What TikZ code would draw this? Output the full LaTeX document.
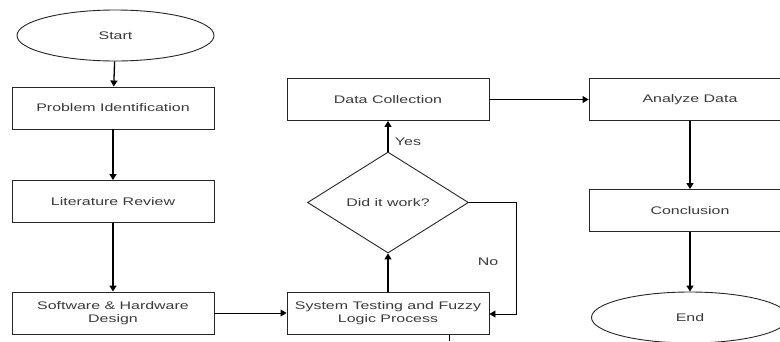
\documentclass[tikz,border=0pt]{standalone}
\usepackage{fontspec}
\setmainfont{Liberation Sans}
\newfontfamily\wide[FakeStretch=1.45]{Liberation Sans}
\usetikzlibrary{shapes.geometric,arrows.meta}
\definecolor{txt}{HTML}{3A3A3A}
\tikzset{
  base/.style={draw=black!85, line width=0.9pt, font=\wide\fontsize{11}{13}\selectfont, text=txt, align=center, inner sep=0pt},
  procbox/.style={base, rectangle, minimum width=202pt, minimum height=42pt},
  term/.style={base, ellipse, minimum width=197pt, minimum height=51pt},
  decide/.style={base, diamond, aspect=1.6, minimum width=161pt, minimum height=101pt},
  flow/.style={draw=black, line width=1.3pt, -{Triangle[length=6pt,width=7pt]}},
  hflow/.style={flow, line width=0.9pt},
  lbl/.style={font=\wide\fontsize{11}{13}\selectfont, text=txt, inner sep=0pt}
}
\begin{document}
\begin{tikzpicture}[x=1pt,y=-1pt]
\clip (0,0) rectangle (780,341);
\fill[white] (0,0) rectangle (780,341);
\node[term] (start) at (115.5,35.5) {Start};
\node[procbox] (pi) at (113,108) {Problem Identification};
\node[procbox] (lr) at (113,201.5) {Literature Review};
\node[procbox] (shd) at (113,313) {Software \& Hardware\\Design};
\node[procbox] (st) at (388,313) {System Testing and Fuzzy\\Logic Process};
\node[decide] (dec) at (388,202.5) {Did it work?};
\node[procbox] (dc) at (388,99.5) {Data Collection};
\node[procbox] (ad) at (690,99.5) {Analyze Data};
\node[procbox] (con) at (690,210.5) {Conclusion};
\node[term] (end) at (690,317.5) {End};
\coordinate (c1) at (516,202.5);
\coordinate (c2) at (516,314);
\coordinate (t1) at (449,335);
\coordinate (t2) at (449,341);

\draw[flow] (start) -- (pi);
\draw[flow] (pi) -- (lr);
\draw[flow] (lr) -- (shd);
\draw[hflow] (shd) -- (st);
\draw[flow] (st) -- (dec);
\draw[flow] (dec) -- (dc);
\node[lbl] at (408,142) {Yes};
\draw[hflow] (dec.east) -- (c1) -- (c2) -- (st.east |- c2);
\node[lbl] at (488,262) {No};
\draw[hflow] (dc) -- (ad);
\draw[flow] (ad) -- (con);
\draw[flow] (con) -- (end);
\draw[line width=0.9pt] (t1) -- (t2);
\end{tikzpicture}
\end{document}
